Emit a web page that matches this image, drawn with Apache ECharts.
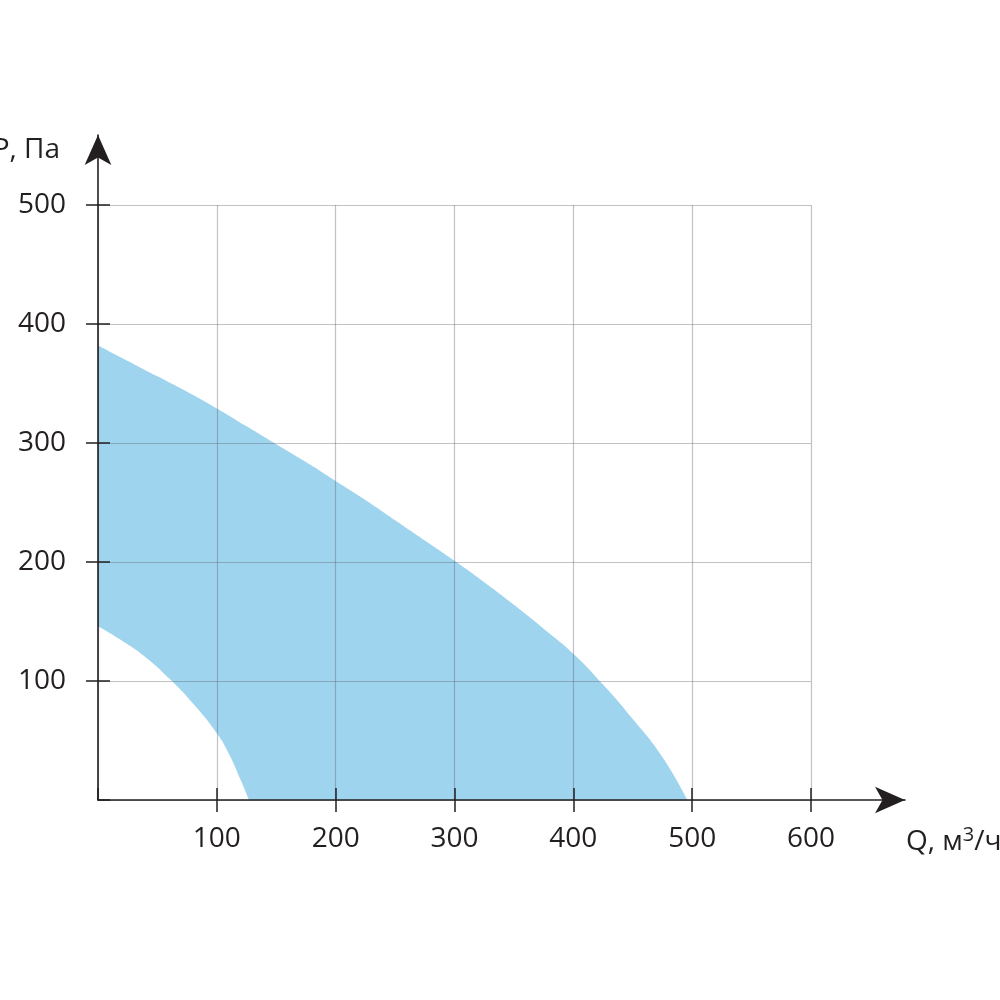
<!DOCTYPE html>
<html>
<head>
<meta charset="utf-8">
<script src="https://cdn.jsdelivr.net/npm/echarts@6/dist/echarts.min.js"></script>
<style>html,body{margin:0;padding:0;background:#fff;}#c{width:1000px;height:1000px;}</style>
</head>
<body>
<div id="c"></div>
<script>
// Upper boundary of the working area (Q, m3/h -> P, Pa)
const upperQ = [0, 25, 50, 75, 100, 125, 150, 175, 200, 225, 250, 275, 300, 325, 350, 375, 400, 425, 450, 475, 496];
const upperP = [382, 369, 356, 343, 329, 314, 299, 284, 268, 252, 235, 218, 201, 183, 164, 144, 123, 97, 68, 36, 0];
// Lower boundary of the working area
const lowerQ = [0, 20, 40, 60, 80, 100, 110, 120, 127];
const lowerP = [146, 134, 120, 102, 81, 56, 39, 17, 0];
// Axis ranges / ticks
const xMax = 600, xStep = 100;
const yMax = 500, yStep = 100;
const xTitle = 'Q, м{s|3}/ч';
const yTitle = 'P, Па';

const dark = '#231f20';
const font = 'Open Sans';
const chart = echarts.init(document.getElementById('c'));

const pairs = (xs, ys) => xs.map((x, i) => [x, ys[i]]);

chart.setOption({
  animation: false,
  grid: [
    { left: 98, top: 205, width: 713, height: 595 },
    { left: 98, top: 135, width: 807, height: 665 }
  ],
  xAxis: [
    { gridIndex: 0, type: 'value', min: 0, max: xMax, interval: xStep, z: 10,
      axisLine: { show: false },
      axisTick: { show: true, length: 12, lineStyle: { color: dark, width: 1.5 } },
      axisLabel: { show: true, showMinLabel: false, margin: 25, color: dark, fontSize: 28, fontFamily: font },
      splitLine: { show: true, lineStyle: { color: 'rgba(95,95,105,0.38)', width: 1.2 } } },
    { gridIndex: 0, type: 'value', min: 0, max: xMax, interval: xStep, z: 10, position: 'bottom',
      axisLine: { show: false },
      axisTick: { show: true, inside: true, length: 12, lineStyle: { color: dark, width: 1.5 } },
      axisLabel: { show: false }, splitLine: { show: false } },
    { gridIndex: 1, type: 'value', min: 0, max: 1, z: 11,
      axisLine: { show: true, symbol: ['none', 'arrow'], symbolSize: [20, 30], lineStyle: { color: dark, width: 1.6 } },
      axisTick: { show: false }, axisLabel: { show: false }, splitLine: { show: false } }
  ],
  yAxis: [
    { gridIndex: 0, type: 'value', min: 0, max: yMax, interval: yStep, z: 10,
      axisLine: { show: false },
      axisTick: { show: true, length: 12, lineStyle: { color: dark, width: 1.5 } },
      axisLabel: { show: true, showMinLabel: false, margin: 32, color: dark, fontSize: 28, fontFamily: font },
      splitLine: { show: true, lineStyle: { color: 'rgba(95,95,105,0.38)', width: 1.2 } } },
    { gridIndex: 0, type: 'value', min: 0, max: yMax, interval: yStep, z: 10, position: 'left',
      axisLine: { show: false },
      axisTick: { show: true, inside: true, length: 12, lineStyle: { color: dark, width: 1.5 } },
      axisLabel: { show: false }, splitLine: { show: false } },
    { gridIndex: 1, type: 'value', min: 0, max: 1, z: 11,
      axisLine: { show: true, symbol: ['none', 'arrow'], symbolSize: [20, 30], lineStyle: { color: dark, width: 1.6 } },
      axisTick: { show: false }, axisLabel: { show: false }, splitLine: { show: false } }
  ],
  series: [
    { type: 'line', xAxisIndex: 0, yAxisIndex: 0, data: pairs(upperQ, upperP),
      smooth: 0.5,
      showSymbol: false, lineStyle: { width: 0, opacity: 0 },
      areaStyle: { color: '#9fd4ee', opacity: 1 }, z: 2 },
    { type: 'line', xAxisIndex: 0, yAxisIndex: 0, data: pairs(lowerQ, lowerP),
      smooth: 0.5,
      showSymbol: false, lineStyle: { width: 0, opacity: 0 },
      areaStyle: { color: '#ffffff', opacity: 1 }, z: 3 }
  ],
  graphic: [
    { type: 'text', x: 60, y: 150, z: 20,
      style: { text: yTitle, align: 'right', verticalAlign: 'middle', fill: dark, fontSize: 28, fontFamily: font } },
    { type: 'text', x: 906, y: 842, z: 20,
      style: { text: xTitle, align: 'left', verticalAlign: 'middle', fill: dark, fontSize: 28, fontFamily: font,
        rich: { s: { fontSize: 20, fill: dark, fontFamily: font, verticalAlign: 'bottom', padding: [0, 0, 14, 0] } } } }
  ]
});
</script>
</body>
</html>
